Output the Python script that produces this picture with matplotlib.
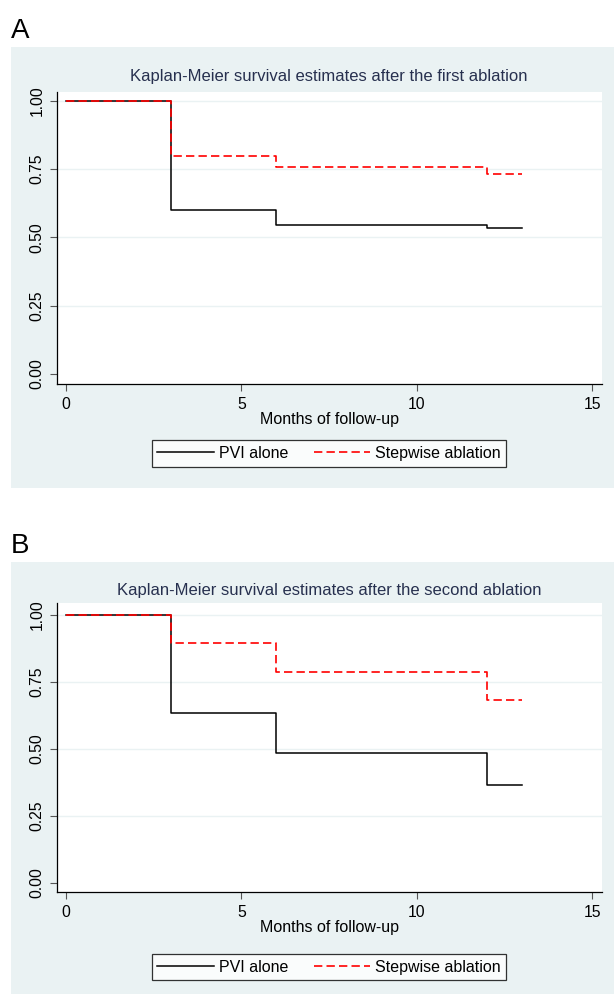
import matplotlib
matplotlib.use("Agg")
import matplotlib.pyplot as plt
from matplotlib.patches import Rectangle

plt.rcParams['font.family'] = ['Liberation Sans', 'DejaVu Sans']

# months of follow-up at each step of the curves
months = [0, 3, 6, 12, 13]

# panel A - after the first ablation
pvi_first = [1.0, 0.60, 0.545, 0.535, 0.535]
step_first = [1.0, 0.80, 0.76, 0.733, 0.733]

# panel B - after the second ablation
pvi_second = [1.0, 0.636, 0.485, 0.364, 0.364]
step_second = [1.0, 0.895, 0.789, 0.684, 0.684]

group_names = ['PVI alone', 'Stepwise ablation']
panel_letters = ['A', 'B']
titles = ['Kaplan-Meier survival estimates after the first ablation',
          'Kaplan-Meier survival estimates after the second ablation']
xticks = [0, 5, 10, 15]
yticks = [0.0, 0.25, 0.50, 0.75, 1.00]
ytick_labels = ['0.00', '0.25', '0.50', '0.75', '1.00']

W, H = 614, 996
fig = plt.figure(figsize=(W / 100, H / 100), dpi=100)

def fx(x):
    return x / W

def fy(y):
    return 1 - y / H

grey = '#eaf2f3'
title_col = '#27304f'

# pixel layout for each panel: box top/bottom, axes top/bottom, title y, legend y, letter y
panels = [
    dict(box=(47, 488), ax=(92, 384), title=77, legend=453.5, letter=38, ylim=(-0.037, 1.033)),
    dict(box=(562, 994), ax=(603, 892), title=590, legend=967, letter=553, ylim=(-0.034, 1.045)),
]
curves = [(pvi_first, step_first), (pvi_second, step_second)]

for i, p in enumerate(panels):
    b0, b1 = p['box']
    fig.patches.append(Rectangle((fx(11), fy(b1)), fx(W - 11), (b1 - b0) / H,
                                 transform=fig.transFigure, facecolor=grey,
                                 edgecolor='none', zorder=-5))
    fig.text(fx(11), fy(p['letter']), panel_letters[i], fontsize=20, ha='left', va='baseline')

    a0, a1 = p['ax']
    ax = fig.add_axes([fx(57), fy(a1), fx(602 - 57), (a1 - a0) / H])
    ax.set_facecolor('white')

    pvi, step = curves[i]
    l1, = ax.step(months, pvi, where='post', color='black', lw=1.1, label=group_names[0], zorder=3)
    l2, = ax.step(months, step, where='post', color='#ff0000', lw=1.2,
                  linestyle=(0, (5, 2.5)), label=group_names[1], zorder=4)

    ax.set_xlim(-0.257, 15.28)
    ax.set_ylim(*p['ylim'])
    ax.set_xticks(xticks)
    ax.set_yticks(yticks)
    ax.set_yticklabels(ytick_labels, rotation=90, va='center')
    for yv in yticks[1:]:
        ax.axhline(yv, color=grey, lw=1.0, zorder=1)

    for s in ['top', 'right']:
        ax.spines[s].set_visible(False)
    ax.spines['left'].set_linewidth(0.9)
    ax.spines['bottom'].set_linewidth(0.9)
    ax.tick_params(axis='both', direction='out', length=5, width=0.8, color='#555555',
                   labelsize=11.3, pad=4)
    ax.set_xlabel('Months of follow-up', fontsize=11.5, labelpad=0)

    fig.text(fx(329), fy(p['title']), titles[i], fontsize=12, color=title_col,
             ha='center', va='center')

    leg = ax.legend(handles=[l1, l2], ncol=2, loc='center',
                    bbox_to_anchor=(fx(329), fy(p['legend'])), bbox_transform=fig.transFigure,
                    fontsize=11.5, frameon=True, fancybox=False, handlelength=3.55,
                    handletextpad=0.3, columnspacing=1.6, borderpad=0.35, borderaxespad=0)
    leg.get_frame().set_edgecolor('black')
    leg.get_frame().set_linewidth(0.9)

fig.savefig('out.png', dpi=100, facecolor='white')
